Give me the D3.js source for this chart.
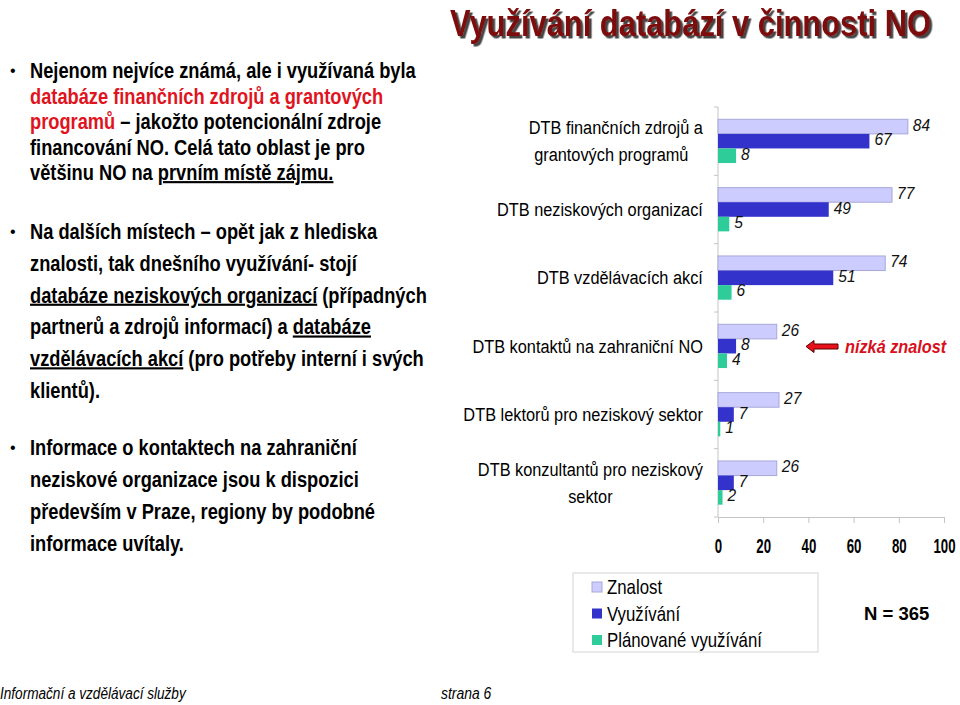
<!DOCTYPE html>
<html>
<head>
<meta charset="utf-8">
<script src="https://cdn.jsdelivr.net/npm/d3@7"></script>
<style>
  body { margin: 0; background: #fff; }
  svg { display: block; }
  text { font-family: "Liberation Sans", Arial, sans-serif; }
</style>
</head>
<body>
<script>
// data
var categories = [
  ['DTB finančních zdrojů a', 'grantových programů\u00a0\u00a0'],
  ['DTB neziskových organizací'],
  ['DTB vzdělávacích akcí'],
  ['DTB kontaktů na zahraniční NO'],
  ['DTB lektorů pro neziskový sektor'],
  ['DTB konzultantů pro neziskový', 'sektor']
]
var seriesNames = ['Znalost', 'Využívání', 'Plánované využívání']
var znalost   = [84, 77, 74, 26, 27, 26]
var vyuzivani = [67, 49, 51, 8, 7, 7]
var planovane = [8, 5, 6, 4, 1, 2]
var ticks = [0, 20, 40, 60, 80, 100]
var colors = ['#ccccff', '#3333cc', '#2ecc99']

var width = 960, height = 705
var svg = d3.select('body').append('svg').attr('width', width).attr('height', height)

// no narrow font installed, so squeeze Liberation Sans horizontally
function ntext(parent, x, y, str, sx) {
  return parent.append('text')
    .attr('transform', 'translate(' + x + ',' + y + ') scale(' + sx + ',1)')
    .text(str)
}

var defs = svg.append('defs')
defs.append('filter').attr('id', 'shadow').attr('x', '-5%').attr('y', '-20%').attr('width', '110%').attr('height', '150%')
  .append('feDropShadow').attr('dx', 2.5).attr('dy', 2.5).attr('stdDeviation', 0.6)
  .attr('flood-color', '#333').attr('flood-opacity', 0.9)

// title
svg.append('text').attr('x', 450).attr('y', 36).text('Využívání databází v činnosti NO')
  .attr('font-size', 36).attr('font-weight', 'bold').attr('fill', '#7d0808')
  .attr('textLength', 481).attr('lengthAdjust', 'spacingAndGlyphs')
  .attr('filter', 'url(#shadow)')

// left text block
var paras = [
  { y: 70, lh: 25.5, lines: [
    [['Nejenom nejvíce známá, ale i využívaná byla']],
    [['databáze finančních zdrojů a grantových', 'red']],
    [['programů', 'red'], [' – jakožto potencionální zdroje']],
    [['financování NO. Celá tato oblast je pro']],
    [['většinu NO na '], ['prvním místě zájmu.', 'u']]
  ]},
  { y: 231, lh: 31.8, lines: [
    [['Na dalších místech – opět jak z hlediska']],
    [['znalosti, tak dnešního využívání- stojí']],
    [['databáze neziskových organizací', 'u'], [' (případných']],
    [['partnerů a zdrojů informací) a '], ['databáze', 'u']],
    [['vzdělávacích akcí', 'u'], [' (pro potřeby interní i svých']],
    [['klientů).']]
  ]},
  { y: 447, lh: 32, lines: [
    [['Informace o kontaktech na zahraniční']],
    [['neziskové organizace jsou k dispozici']],
    [['především v Praze, regiony by podobné']],
    [['informace uvítaly.']]
  ]}
]
var left = svg.append('g')
paras.forEach(function(p){
  left.append('text').attr('x', 10).attr('y', p.y + 6).text('•').attr('font-size', 16)
  p.lines.forEach(function(line, i){
    var t = ntext(left, 30, p.y + 8 + i * p.lh, '', 0.85)
      .attr('font-size', 21.5).attr('font-weight', 'bold')
    line.forEach(function(seg){
      var s = t.append('tspan').text(seg[0])
      if (seg[1] === 'red') s.attr('fill', '#e0141e')
      if (seg[1] === 'u') s.style('text-decoration', 'underline')
    })
  })
})

// chart
var x = d3.scaleLinear().domain([0, 100]).range([718, 944])
var y = d3.scaleBand().domain(d3.range(categories.length)).range([107, 517])
  .paddingInner(0.36).paddingOuter(0.18)
var sub = d3.scaleBand().domain(d3.range(3)).range([0, y.bandwidth()])
var series = [znalost, vyuzivani, planovane]

var chart = svg.append('g')

// category tick marks + axis lines
var band = (517 - 107) / categories.length
chart.selectAll('line.ct').data(d3.range(categories.length + 1)).enter().append('line')
  .attr('x1', 714).attr('x2', 718)
  .attr('y1', function(d){ return 107 + d * band }).attr('y2', function(d){ return 107 + d * band })
  .attr('stroke', '#c4c4c4')
chart.append('line').attr('x1', 718).attr('x2', 718).attr('y1', 107).attr('y2', 517).attr('stroke', '#c4c4c4')

var xAxis = chart.append('g').attr('transform', 'translate(0,517)')
  .call(d3.axisBottom(x).tickValues(ticks).tickSize(6).tickPadding(15))
xAxis.select('.domain').attr('stroke', '#c4c4c4')
xAxis.selectAll('.tick line').attr('stroke', '#c4c4c4')
xAxis.selectAll('.tick text').attr('font-size', 21).attr('font-weight', 'bold').attr('fill', '#000')
  .attr('font-family', '"Liberation Sans", Arial, sans-serif')
  .attr('transform', 'scale(0.63,1)')

series.forEach(function(vals, si){
  var g = chart.append('g')
  g.selectAll('rect').data(vals).enter().append('rect')
    .attr('x', x(0))
    .attr('y', function(d, i){ return y(i) + sub(si) })
    .attr('width', function(d){ return x(d) - x(0) })
    .attr('height', sub.bandwidth())
    .attr('fill', colors[si])
    .attr('stroke', si === 0 ? '#a8a8d8' : 'none')
  vals.forEach(function(d, i){
    ntext(g, x(d) + 5, y(i) + sub(si) + sub.bandwidth() / 2 + 4, d, 0.94)
      .attr('font-size', 16.5).attr('font-style', 'italic').attr('fill', '#111')
  })
})

// category labels (centered lines, right edge at 703)
var catSx = 0.86
categories.forEach(function(lines, i){
  var cy = y(i) + y.bandwidth() / 2
  var t = chart.append('text').attr('font-size', 19).attr('fill', '#000').attr('text-anchor', 'middle')
  var spans = lines.map(function(l, j){
    return t.append('tspan').text(l).attr('x', 0)
      .attr('y', 6.5 + (j - (lines.length - 1) / 2) * 27)
  })
  var maxW = d3.max(spans, function(s){ return s.node().getComputedTextLength() }) * catSx
  t.attr('transform', 'translate(' + (703 - maxW / 2) + ',' + cy + ') scale(' + catSx + ',1)')
})

// annotation arrow
chart.append('path')
  .attr('d', 'M806,346.5 L814,340.5 L814,344 L838,344 L838,349 L814,349 L814,352.5 Z')
  .attr('fill', '#e8101a').attr('stroke', '#5a0000').attr('stroke-width', 1)
ntext(chart, 845, 353, 'nízká znalost', 0.88)
  .attr('font-size', 18.5).attr('font-weight', 'bold').attr('font-style', 'italic').attr('fill', '#d8101c')

// legend
var lg = svg.append('g')
lg.append('rect').attr('x', 573).attr('y', 573).attr('width', 245).attr('height', 79)
  .attr('fill', '#fff').attr('stroke', '#d4d4d4')
seriesNames.forEach(function(n, i){
  var cy = 587 + i * 26.5
  lg.append('rect').attr('x', 592).attr('y', cy - 5).attr('width', 10).attr('height', 10)
    .attr('fill', colors[i]).attr('stroke', i === 0 ? '#a8a8d8' : 'none')
  ntext(lg, 607, cy + 7, n, 0.84).attr('font-size', 20)
})

svg.append('text').attr('x', 864).attr('y', 620).text('N = 365')
  .attr('font-size', 18.5).attr('font-weight', 'bold')

// footer
ntext(svg, 0, 699, 'Informační a vzdělávací služby', 0.8).attr('font-size', 17).attr('font-style', 'italic')
ntext(svg, 441, 699, 'strana 6', 0.82).attr('font-size', 17).attr('font-style', 'italic')
</script>
</body>
</html>
